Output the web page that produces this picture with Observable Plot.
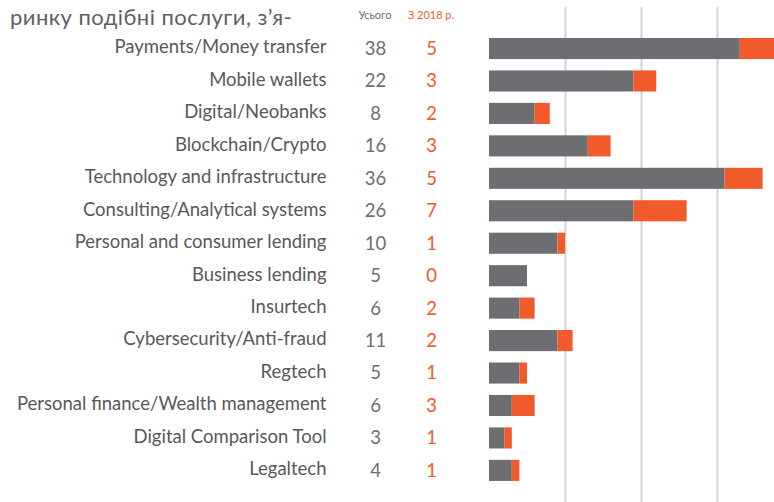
<!DOCTYPE html>
<html>
<head>
<meta charset="utf-8">
<script src="https://cdn.jsdelivr.net/npm/d3@7"></script>
<script src="https://cdn.jsdelivr.net/npm/@observablehq/plot@0.6"></script>
<style>
  html, body { margin: 0; padding: 0; background: #fff; overflow: hidden; }
  #wrap { position: relative; width: 774px; height: 502px; font-family: Lato, "Noto Sans", sans-serif; }
  #para { position: absolute; left: 10px; top: 3px; font-size: 22px; color: #5f6062; white-space: nowrap; letter-spacing: 0.45px; }
  .hdr { position: absolute; top: 8px; font-size: 11px; transform: translateX(-50%); white-space: nowrap; }
  #h1 { left: 375px; color: #6d6e71; }
  #h2 { left: 431px; color: #f15a2b; }
  #chart { position: absolute; left: 0; top: 0; }
</style>
</head>
<body>
<div id="wrap">
  <div id="chart"></div>
  <div id="para">ринку подібні послуги, з’я-</div>
  <div class="hdr" id="h1">Усього</div>
  <div class="hdr" id="h2">З 2018 р.</div>
</div>
<script>
const categories = [
  "Payments/Money transfer",
  "Mobile wallets",
  "Digital/Neobanks",
  "Blockchain/Crypto",
  "Technology and infrastructure",
  "Consulting/Analytical systems",
  "Personal and consumer lending",
  "Business lending",
  "Insurtech",
  "Cybersecurity/Anti-fraud",
  "Regtech",
  "Personal finance/Wealth management",
  "Digital Comparison Tool",
  "Legaltech"
];
const totals = [38, 22, 8, 16, 36, 26, 10, 5, 6, 11, 5, 6, 3, 4];
const newSince2018 = [5, 3, 2, 3, 5, 7, 1, 0, 2, 2, 1, 3, 1, 1];
const gridValues = [10, 20, 30];

const rows = categories.map((c, i) => ({
  category: c,
  total: totals[i],
  added: newSince2018[i],
  before: totals[i] - newSince2018[i]
}));

const GRAY = "#6d6e71";
const ORANGE = "#f15a2b";

const chart = Plot.plot({
  width: 774,
  height: 502,
  marginLeft: 489,
  marginRight: 0,
  marginTop: 7,
  marginBottom: 0,
  style: { fontFamily: "Lato, 'Noto Sans', sans-serif", background: "transparent", overflow: "hidden" },
  x: { domain: [0, 37.5], axis: null },
  y: { domain: categories, range: [32.3, 486.6], paddingInner: 0.35, paddingOuter: 0.175, round: false, axis: null },
  marks: [
    Plot.ruleX(gridValues, { stroke: "#d1d3d4", strokeWidth: 2 }),
    Plot.barX(rows, { y: "category", x1: 0, x2: "before", fill: GRAY, clip: true }),
    Plot.barX(rows, { y: "category", x1: "before", x2: "total", fill: ORANGE, clip: true }),
    Plot.text(rows, { y: "category", text: "category", frameAnchor: "left", textAnchor: "end", dx: -163, dy: -1.5, fontSize: 18.5, fill: "#58595b" }),
    Plot.text(rows, { y: "category", text: d => String(d.total), frameAnchor: "left", textAnchor: "middle", dx: -114, dy: 0, fontSize: 18.5, fill: GRAY }),
    Plot.text(rows, { y: "category", text: d => String(d.added), frameAnchor: "left", textAnchor: "middle", dx: -58, dy: 0, fontSize: 18.5, fill: ORANGE })
  ]
});
document.getElementById("chart").appendChild(chart);
</script>
</body>
</html>
